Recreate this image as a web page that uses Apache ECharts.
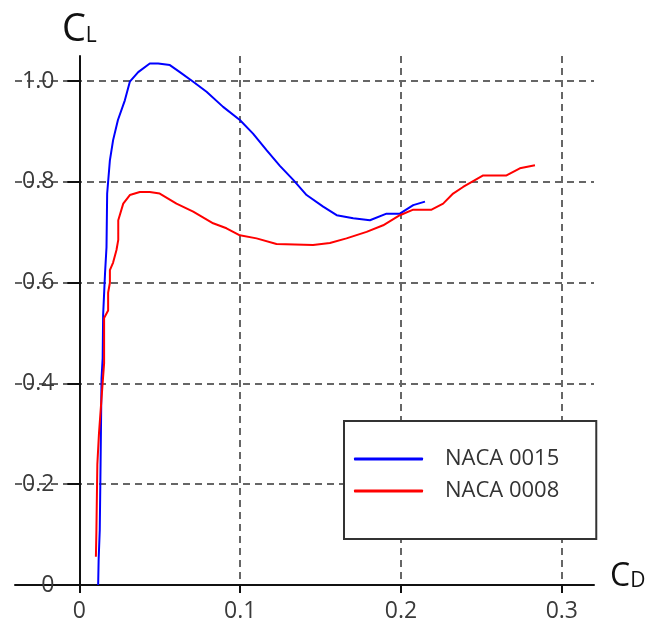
<!DOCTYPE html>
<html>
<head>
<meta charset="utf-8">
<script src="https://cdn.jsdelivr.net/npm/echarts@6/dist/echarts.min.js"></script>
<style>
  html, body { margin: 0; padding: 0; background: #fff; }
  #chart { width: 655px; height: 625px; }
</style>
</head>
<body>
<div id="chart"></div>
<script>
// Lift coefficient C_L against drag coefficient C_D for two symmetric NACA sections
const seriesNames = ['NACA 0015', 'NACA 0008'];

const cdNaca0015 = [0.0117, 0.0120, 0.0127, 0.0132, 0.0138, 0.0145, 0.0148, 0.0160, 0.0169, 0.0173,
  0.0190, 0.0210, 0.0240, 0.0283, 0.0314, 0.0366, 0.0438, 0.0490, 0.0563, 0.0625, 0.0708, 0.0791,
  0.0894, 0.0998, 0.1080, 0.1164, 0.1247, 0.1330, 0.1413, 0.1516, 0.1600, 0.1703, 0.1807, 0.1910,
  0.1993, 0.2076, 0.2149];
const clNaca0015 = [0.000, 0.050, 0.109, 0.240, 0.410, 0.450, 0.536, 0.620, 0.671, 0.777,
  0.843, 0.883, 0.923, 0.962, 0.999, 1.018, 1.035, 1.035, 1.032, 1.018, 0.999, 0.979,
  0.949, 0.923, 0.896, 0.863, 0.832, 0.804, 0.774, 0.751, 0.734, 0.728, 0.724, 0.737,
  0.737, 0.754, 0.761];

const cdNaca0008 = [0.0103, 0.0106, 0.0112, 0.0122, 0.0147, 0.0154, 0.0154, 0.0179, 0.0179, 0.0190,
  0.0190, 0.0210, 0.0231, 0.0242, 0.0242, 0.0273, 0.0314, 0.0376, 0.0438, 0.0500, 0.0604, 0.0708,
  0.0832, 0.0915, 0.0998, 0.1102, 0.1226, 0.1453, 0.1558, 0.1661, 0.1786, 0.1889, 0.1993, 0.2076,
  0.2190, 0.2262, 0.2324, 0.2386, 0.2511, 0.2656, 0.2739, 0.2833];
const clNaca0008 = [0.056, 0.105, 0.240, 0.300, 0.410, 0.440, 0.530, 0.545, 0.580, 0.600,
  0.625, 0.640, 0.665, 0.685, 0.724, 0.757, 0.774, 0.780, 0.780, 0.777, 0.757, 0.741,
  0.718, 0.708, 0.694, 0.688, 0.677, 0.675, 0.679, 0.688, 0.701, 0.714, 0.734, 0.745,
  0.745, 0.757, 0.777, 0.790, 0.813, 0.813, 0.827, 0.833];

const cdTicks = [0, 0.1, 0.2, 0.3];
const clTicks = [0, 0.2, 0.4, 0.6, 0.8, 1.0];

function pairs(xs, ys) { return xs.map((x, i) => [x, ys[i]]); }

const FONT = '"Open Sans", "DejaVu Sans", sans-serif';
const gridLine = { show: true, lineStyle: { color: '#666', width: 2, type: [7, 5] } };

// plot area: horizontal grid lines run a little to the left of the C_L axis
const GRID_LEFT = 15, GRID_RIGHT = 61;
const CD_MIN = -0.04, CD_MAX = 0.32;
const plotWidth = 655 - GRID_LEFT - GRID_RIGHT;
const yAxisShift = -plotWidth * (0 - CD_MIN) / (CD_MAX - CD_MIN);

const chart = echarts.init(document.getElementById('chart'), null, { renderer: 'canvas' });
chart.setOption({
  animation: false,
  backgroundColor: '#fff',
  grid: { left: GRID_LEFT, right: GRID_RIGHT, top: 56, bottom: 40, containLabel: false, outerBoundsMode: 'none' },
  xAxis: {
    type: 'value',
    min: CD_MIN, max: CD_MAX,
    name: '{c|C}{s|D}',
    nameLocation: 'end',
    nameGap: 16,
    nameTextStyle: {
      padding: [0, 0, 16, 0],
      rich: {
        c: { fontFamily: FONT, fontSize: 32, color: '#111' },
        s: { fontFamily: FONT, fontSize: 21, color: '#111', padding: [9, 0, 0, 0] }
      }
    },
    axisLine: { show: true, onZero: false, lineStyle: { color: '#111', width: 2 } },
    axisTick: { show: true, customValues: cdTicks, length: 8, lineStyle: { color: '#111', width: 2 } },
    axisLabel: {
      customValues: cdTicks, margin: 15,
      fontFamily: FONT, fontSize: 23, color: '#3a3a3a',
      formatter: v => (v === 0 ? '0' : v.toFixed(1))
    },
    splitLine: gridLine
  },
  yAxis: {
    type: 'value',
    position: 'left',
    offset: yAxisShift,
    min: 0, max: 1.05,
    name: '{c|C}{s|L}',
    nameLocation: 'end',
    nameGap: 7,
    nameTextStyle: {
      padding: [0, 0, 0, 0],
      rich: {
        c: { fontFamily: FONT, fontSize: 38, color: '#111' },
        s: { fontFamily: FONT, fontSize: 21, color: '#111', padding: [13, 0, 0, 0] }
      }
    },
    axisLine: { show: true, onZero: false, lineStyle: { color: '#111', width: 2 } },
    axisTick: { show: true, customValues: clTicks, length: 12, lineStyle: { color: '#111', width: 2 } },
    axisLabel: {
      customValues: clTicks, margin: 25,
      fontFamily: FONT, fontSize: 23, color: '#3a3a3a',
      formatter: v => (v === 0 ? '0' : v.toFixed(1))
    },
    splitLine: gridLine
  },
  legend: {
    orient: 'vertical',
    left: 344, top: 421,
    backgroundColor: '#fff',
    borderColor: '#333', borderWidth: 2, borderRadius: 0,
    padding: [26, 37, 36, 10],
    icon: 'roundRect',
    itemWidth: 69, itemHeight: 3, itemGap: 8,
    textStyle: { fontFamily: FONT, fontSize: 22, color: '#333', lineHeight: 24, padding: [0, 0, 0, 17] },
    data: seriesNames
  },
  series: [
    { name: seriesNames[0], type: 'line', symbol: 'none', color: '#0000ff',
      lineStyle: { width: 2, color: '#0000ff' }, data: pairs(cdNaca0015, clNaca0015) },
    { name: seriesNames[1], type: 'line', symbol: 'none', color: '#ff0000',
      lineStyle: { width: 2, color: '#ff0000' }, data: pairs(cdNaca0008, clNaca0008) }
  ]
});
</script>
</body>
</html>
